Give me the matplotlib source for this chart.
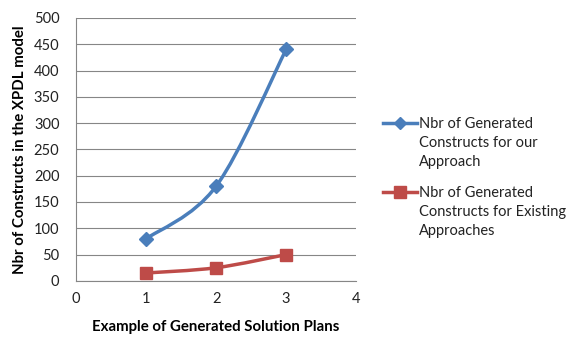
import matplotlib.pyplot as plt
from matplotlib.path import Path
from matplotlib.patches import PathPatch
from matplotlib.lines import Line2D

plt.rcParams['font.family'] = ['Lato', 'DejaVu Sans']

# data
plans = [1, 2, 3]
ours = [80, 180, 440]
existing = [15, 25, 50]
label_ours = "Nbr of Generated\nConstructs for our\nApproach"
label_existing = "Nbr of Generated\nConstructs for Existing\nApproaches"

blue = "#4a7ebb"
red = "#be4b48"


def smooth_path(xs, ys, t=1/6):
    # Excel style smoothed line: cubic bezier through the points
    verts = [(xs[0], ys[0])]
    codes = [Path.MOVETO]
    n = len(xs)
    for i in range(n - 1):
        x0, y0 = (xs[i - 1], ys[i - 1]) if i > 0 else (xs[i], ys[i])
        x1, y1 = xs[i], ys[i]
        x2, y2 = xs[i + 1], ys[i + 1]
        x3, y3 = (xs[i + 2], ys[i + 2]) if i + 2 < n else (x2, y2)
        c1 = (x1 + (x2 - x0) * t, y1 + (y2 - y0) * t)
        c2 = (x2 - (x3 - x1) * t, y2 - (y3 - y1) * t)
        verts += [c1, c2, (x2, y2)]
        codes += [Path.CURVE4] * 3
    return Path(verts, codes)


fig = plt.figure(figsize=(5.68, 3.38), dpi=100)
ax = fig.add_axes([0.134, 0.169, 0.493, 0.778])

ax.add_patch(PathPatch(smooth_path(plans, ours), fill=False, edgecolor=blue, lw=2.5, zorder=3))
ax.add_patch(PathPatch(smooth_path(plans, existing), fill=False, edgecolor=red, lw=2.5, zorder=3))
ax.plot(plans, ours, ls="none", marker="D", ms=7, color=blue, zorder=4)
ax.plot(plans, existing, ls="none", marker="s", ms=9, color=red, zorder=4)

ax.set_xlim(0, 4)
ax.set_ylim(0, 500)
ax.set_xticks([0, 1, 2, 3, 4])
ax.set_yticks(range(0, 501, 50))
ax.grid(axis="y", color="#868686", lw=0.8)
ax.set_axisbelow(True)
for s in ["top", "right"]:
    ax.spines[s].set_visible(False)
for s in ["left", "bottom"]:
    ax.spines[s].set_color("#868686")
ax.tick_params(length=0, labelsize=10.5, colors="#222222", pad=8)
ax.tick_params(axis="y", pad=12)

ax.set_xlabel("Example of Generated Solution Plans", fontsize=10.8, fontweight="bold", labelpad=10)
ax.set_ylabel("Nbr of Constructs in the XPDL model", fontsize=10.8, fontweight="bold", labelpad=5)

# legend drawn by hand so the key sits next to the first text line
W, H = 568, 338
for (lab, col, mk, ms, ytop) in [(label_ours, blue, "D", 6, 123), (label_existing, red, "s", 8, 192)]:
    fig.add_artist(Line2D([383 / W, 417 / W], [1 - ytop / H] * 2, color=col, lw=2.5))
    fig.add_artist(Line2D([400 / W], [1 - ytop / H], color=col, marker=mk, ms=ms, ls="none"))
    fig.text(419 / W, 1 - (ytop - 6) / H, lab, fontsize=10.5, va="top", ha="left",
             linespacing=1.45, color="#222222")

fig.savefig("out.png", dpi=100)
